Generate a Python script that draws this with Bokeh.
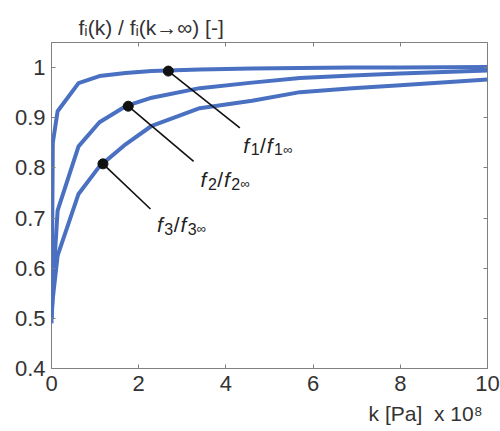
from bokeh.plotting import figure
from bokeh.models import Label, LinearAxis, FixedTicker, Range1d, Title, CustomLabelingPolicy
from bokeh.embed import file_html
from bokeh.resources import INLINE

# ---- data (k in units of 1e8 Pa) ----
k = [0.0, 0.03, 0.14, 0.62, 1.1, 1.7, 2.3, 3.4, 4.6, 5.7, 6.9, 8.0, 10.0]
f1 = [0.49, 0.85, 0.913, 0.969, 0.983, 0.989, 0.993, 0.996, 0.998, 0.999, 1.0, 1.0, 1.001]
f2 = [0.50, 0.56, 0.715, 0.843, 0.891, 0.923, 0.940, 0.959, 0.970, 0.979, 0.984, 0.988, 0.994]
f3 = [0.50, 0.54, 0.625, 0.748, 0.803, 0.847, 0.884, 0.919, 0.934, 0.951, 0.959, 0.965, 0.976]

marker_k = [2.68, 1.76, 1.18]
marker_f = [0.993, 0.923, 0.808]
leader_end_k = [4.32, 3.26, 2.27]
leader_end_f = [0.880, 0.813, 0.718]
series_index = ["1", "2", "3"]

x_ticks = [0, 2, 4, 6, 8, 10]
x_tick_labels = ["0", "2", "4", "6", "8", "10"]
y_ticks = [0.4, 0.5, 0.6, 0.7, 0.8, 0.9, 1.0]
y_tick_labels = ["0.4", "0.5", "0.6", "0.7", "0.8", "0.9", "1"]

title_text = "fᵢ(k) / fᵢ(k→∞) [-]"
xlabel_text = "k [Pa]\u00a0\u00a0x 10⁸"

BLUE = "#4a70c2"
TEXT = "#333333"
AXIS = "#808080"
FONT = "Liberation Sans"

p = figure(width=500, height=431, x_range=Range1d(0, 10), y_range=Range1d(0.4, 1.05),
           output_backend="svg", toolbar_location=None,
           min_border_left=51, min_border_right=13, min_border_top=42, min_border_bottom=63)
p.grid.visible = False
p.outline_line_color = AXIS
p.outline_line_width = 1
p.background_fill_color = "white"
p.border_fill_color = "white"

p.title.text = title_text
p.title.align = "left"
p.title.offset = 27
p.title.text_font = FONT
p.title.text_font_size = "21px"
p.title.text_font_style = "normal"
p.title.text_color = TEXT
p.title.standoff = 8

def style_axis(ax, labels=True):
    ax.axis_line_color = None
    ax.major_tick_in = 4
    ax.major_tick_out = 0
    ax.minor_tick_line_color = None
    ax.major_tick_line_color = AXIS
    ax.major_label_text_font = FONT
    ax.major_label_text_color = TEXT
    if labels:
        ax.major_label_text_font_size = "22px"
    else:
        ax.major_label_text_font_size = "0px"
        ax.major_label_policy = CustomLabelingPolicy(code="return new Set()")
        ax.major_label_standoff = 0

xa = p.xaxis[0]
ya = p.yaxis[0]
xa.ticker = FixedTicker(ticks=x_ticks)
ya.ticker = FixedTicker(ticks=y_ticks)
xa.major_label_overrides = dict(zip(x_ticks, x_tick_labels))
ya.major_label_overrides = dict(zip(y_ticks, y_tick_labels))
style_axis(xa)
style_axis(ya)
xa.major_label_standoff = 7
ya.major_label_standoff = 6

top = LinearAxis(ticker=FixedTicker(ticks=x_ticks))
right = LinearAxis(ticker=FixedTicker(ticks=y_ticks))
style_axis(top, labels=False)
style_axis(right, labels=False)
p.add_layout(top, "above")
p.add_layout(right, "right")

# x axis label (right aligned, below the axis)
p.add_layout(Title(text=xlabel_text, align="right", offset=5, text_font=FONT,
                   text_font_size="21px", text_font_style="normal", text_color=TEXT,
                   standoff=12), "below")

# curves
for f in (f1, f2, f3):
    p.line(k, f, line_color=BLUE, line_width=4, line_join="round")

# leader lines and markers
for i in range(3):
    p.line([marker_k[i], leader_end_k[i]], [marker_f[i], leader_end_f[i]],
           line_color="#111111", line_width=1.6)
p.scatter(marker_k, marker_f, size=10, fill_color="#111111", line_color="#111111")

W = {'f': 278, '/': 278, '1': 556, '2': 556, '3': 556, '∞': 713}

def rich(x, y, pieces, color=TEXT):
    off = 0.0
    for text, size, italic, dy, extra in pieces:
        p.add_layout(Label(x=x, y=y, x_offset=off, y_offset=dy, text=text,
                           text_font=FONT, text_font_size=f"{size}px",
                           text_font_style="italic" if italic else "normal",
                           text_color=color, text_baseline="alphabetic", text_align="left"))
        off += sum(W.get(c, 556) for c in text) * size / 1000.0 + extra

# series labels
label_pos = [(4.40, 0.845), (3.42, 0.776), (2.42, 0.687)]
for (lx, ly), s in zip(label_pos, series_index):
    rich(lx, ly, [("f", 21, True, 0, 1.5), (s, 16, False, -4, 0.5), ("/", 21, False, 0, 0.8),
                  ("f", 21, True, 0, 1.5), (s, 16, False, -4, 0.2), ("∞", 13, False, -4, 0)],
         color="#222222")

open("out.html", "w").write(file_html(p, INLINE))
